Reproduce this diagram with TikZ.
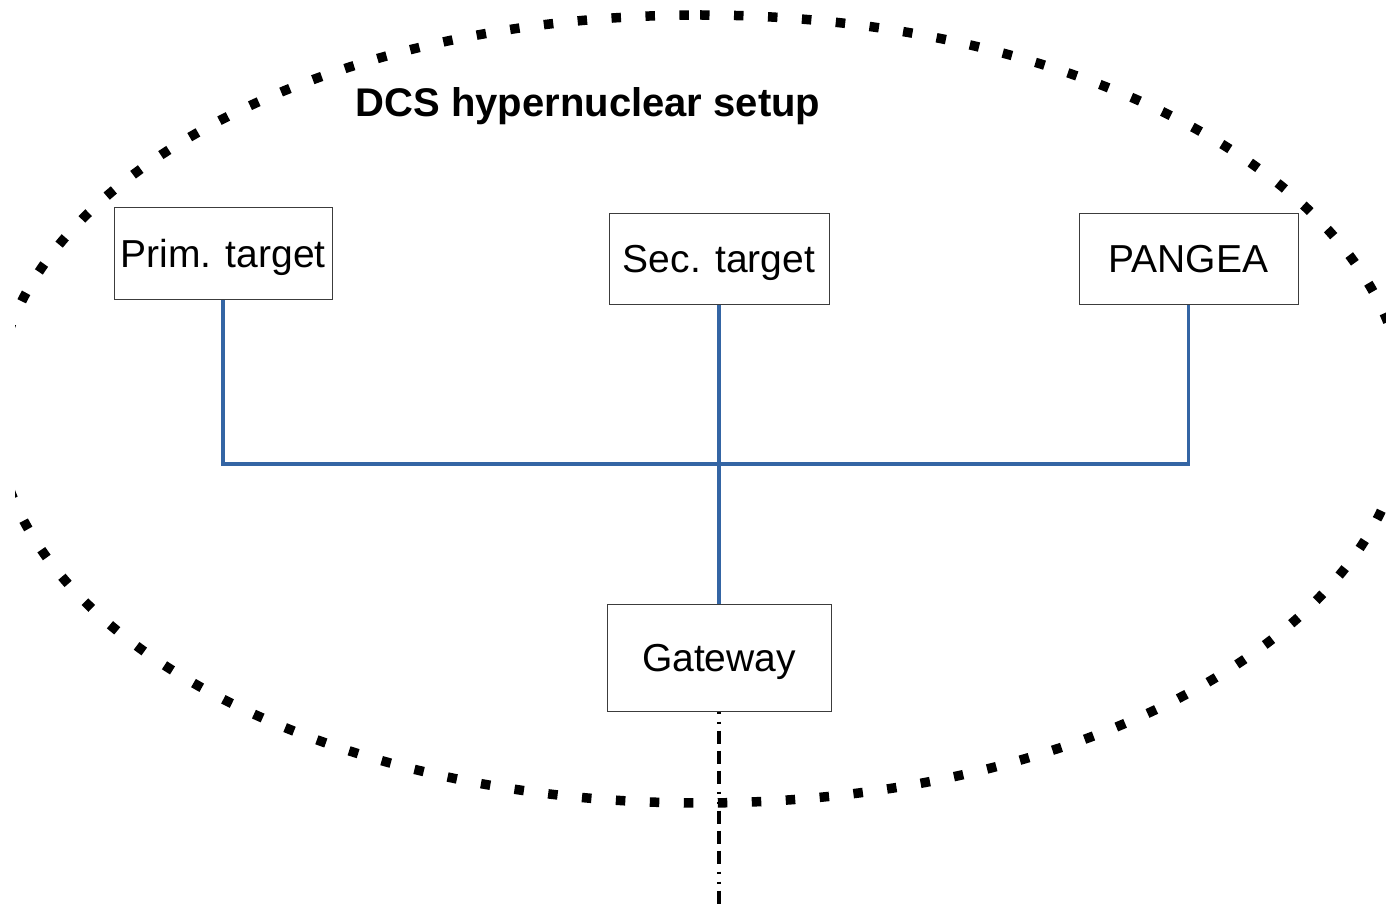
\documentclass[tikz,border=0pt]{standalone}
\usepackage{fontspec}
\setmainfont{Liberation Sans}
\definecolor{busblue}{RGB}{52,101,164}
\definecolor{boxborder}{RGB}{60,60,60}
\begin{document}
\begin{tikzpicture}[x=1pt,y=-1pt,
  unit/.style={draw=boxborder, line width=1pt, rectangle, inner sep=0pt,
    text height=28pt, text depth=0pt, font=\fontsize{39}{47}\selectfont},
  bus/.style={draw=busblue, line width=3.5pt},
  link/.style={draw=black, line width=3.5pt,
    dash pattern=on 2pt off 8pt on 2pt off 7pt on 13pt off 7pt on 13pt off 7pt on 13pt off 8pt},
  boundary/.style={draw=black, line width=9.5pt,
    dash pattern=on 9.5pt off 24.5pt}
]
\useasboundingbox (0,0) rectangle (1386,904);
\fill[white] (0,0) rectangle (1386,904);

% dotted ellipse boundary (clipped at the image sides)
\begin{scope}
  \clip (15,0) rectangle (1386,904);
  \draw[boundary] (700,15) arc[start angle=-90, end angle=270, x radius=705, y radius=394];
\end{scope}

% title
\node[anchor=base, font=\fontsize{40}{48}\selectfont\bfseries] (title) at (588,117) {DCS hypernuclear setup};

% boxes
\node[unit, minimum width=218pt, minimum height=91pt] (prim) at (223,253.5) {Prim. target};
\node[unit, minimum width=220pt, minimum height=91pt] (sec) at (719,258.5) {Sec. target};
\node[unit, minimum width=219pt, minimum height=91pt] (pang) at (1188.5,258.5) {PANGEA};
\node[unit, minimum width=224pt, minimum height=107pt] (gw) at (719,657.5) {Gateway};

% bus
\coordinate (junction) at (719,464);
\draw[bus] (prim.south) |- (junction) -| (pang.south);
\draw[bus] (sec.south) -- (gw.north);

% outgoing dash-dot link
\coordinate (out) at (719,904);
\draw[link] (gw.south) -- (out);
\end{tikzpicture}
\end{document}
